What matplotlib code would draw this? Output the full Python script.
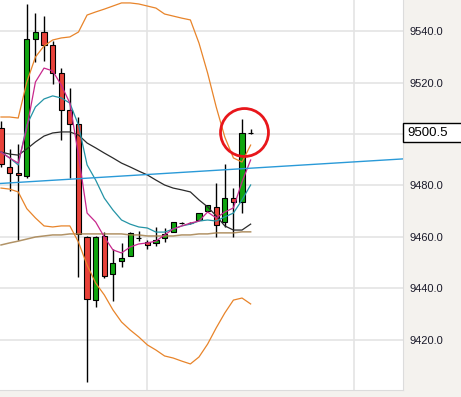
import matplotlib
matplotlib.use("Agg")
import matplotlib.pyplot as plt
import matplotlib.transforms as mtransforms
from matplotlib.patches import Rectangle
import numpy as np

plt.rcParams['font.family'] = ['Liberation Sans', 'DejaVu Sans']

# candles (price values)
opens  = [9502.5, 9487, 9485, 9483.5, 9537, 9539.5, 9534.5, 9523.5, 9509.5, 9504,
          9460, 9435.5, 9460.5, 9445.5, 9450.5, 9452.5, 9459.5, 9458, 9457.5, 9459.5,
          9462, 9465.5, 9465.5, 9466.5, 9470, 9471.5, 9466, 9475, 9473.5, 9500.5]
closes = [9488.5, 9485, 9484, 9537, 9539.5, 9534.5, 9523.5, 9509.5, 9504, 9461,
          9436, 9460, 9445, 9450, 9452, 9461.5, 9459.5, 9457, 9459, 9461,
          9466, 9465.5, 9465.5, 9469.5, 9472.5, 9464.5, 9475, 9473.5, 9500.5, 9500.5]
highs  = [9505, 9494, 9496, 9550.5, 9547, 9546, 9536, 9525.5, 9518, 9506.5,
          9460.5, 9460.5, 9462, 9455.5, 9457.5, 9462, 9462.5, 9459, 9464, 9463.5,
          9466, 9466, 9466, 9469.5, 9472.5, 9481, 9488.5, 9479, 9506, 9502]
lows   = [9487, 9478, 9459, 9483, 9528, 9528.5, 9519.5, 9497.5, 9483, 9444.5,
          9403.5, 9433, 9444, 9435, 9448.5, 9452.5, 9458.5, 9455.5, 9456.5, 9458,
          9462, 9465, 9465, 9466.5, 9470, 9460, 9464, 9460, 9469.5, 9500]

# indicators
bb_upper = [9506.6, 9506.6, 9506.2, 9520.2, 9529.9, 9534.2, 9536.5, 9537.3, 9537.7, 9539.6,
            9546.2, 9547.4, 9548.5, 9549.7, 9550.9, 9550.9, 9550.5, 9549.7, 9548.9, 9546.6,
            9545.8, 9545.0, 9544.3, 9535.3, 9523.7, 9510.5, 9498.8, 9490.7, 9489.1, 9495.7]
bb_lower = [9479.0, 9478.6, 9477.5, 9471.0, 9467.4, 9464.3, 9463.9, 9464.3, 9464.3, 9458.0,
            9449.1, 9442.1, 9437.5, 9431.7, 9427.0, 9423.9, 9421.2, 9418.1, 9416.1, 9413.8,
            9413.0, 9411.8, 9410.7, 9413.4, 9418.4, 9424.7, 9430.5, 9435.5, 9436.3, 9434.0]
ma_fast  = [9493.0, 9490.7, 9488.7, 9502.3, 9520.2, 9525.6, 9524.5, 9519.0, 9512.0, 9491.8,
            9469.3, 9465.8, 9460.0, 9455.0, 9453.8, 9456.1, 9457.3, 9457.7, 9458.4, 9460.8,
            9463.1, 9464.3, 9465.4, 9466.2, 9469.7, 9467.4, 9469.7, 9471.3, 9481.4, 9489.9]
ma_mid   = [9493.0, 9490.7, 9488.0, 9503.5, 9510.5, 9513.6, 9514.8, 9514.0, 9512.0, 9503.5,
            9488.0, 9482.1, 9475.1, 9470.5, 9466.6, 9465.0, 9463.9, 9463.5, 9461.9, 9461.9,
            9463.1, 9464.3, 9465.0, 9466.2, 9466.6, 9466.2, 9467.8, 9469.3, 9474.4, 9480.2]
ma_slow  = [9493.0, 9492.2, 9491.8, 9494.2, 9496.9, 9499.2, 9500.4, 9500.8, 9500.8, 9499.6,
            9496.5, 9494.6, 9492.6, 9490.7, 9488.7, 9487.2, 9485.6, 9484.1, 9482.1, 9480.2,
            9479.0, 9478.3, 9477.5, 9474.4, 9471.7, 9468.2, 9464.3, 9462.7, 9462.7, 9465.0]
ma_long  = [9456.9, 9457.7, 9458.4, 9459.2, 9460.0, 9460.4, 9460.8, 9460.8, 9461.2, 9461.2,
            9461.2, 9461.2, 9461.2, 9461.2, 9461.2, 9460.8, 9460.8, 9460.4, 9460.4, 9460.4,
            9460.4, 9460.8, 9460.8, 9461.2, 9461.2, 9461.6, 9461.6, 9461.6, 9462.0, 9462.0]

trend_x = [-1, 50]
trend_y = [9480.6, 9491.0]

last_price = 9500.5
yticks = [9420, 9440, 9460, 9480, 9500, 9520, 9540]

fig = plt.figure(figsize=(4.61, 3.97), dpi=100, facecolor='#f4f2ee')
ax = fig.add_axes([0, 7/397, 403/461, 390/397])
ax.set_facecolor('white')

x = np.arange(len(opens))
o = np.array(opens); c = np.array(closes)
up = c >= o
cols = np.where(up, '#10a610', '#e8423a')

ax.vlines(x, lows, highs, color='black', lw=1, zorder=2)
ax.bar(x, c - o, bottom=o, width=0.6, color=cols, edgecolor='black', lw=0.8, zorder=3)

ax.plot(x, ma_long, color='#a4804c', lw=1.1, alpha=0.85, zorder=4)
ax.plot(x, bb_upper, color='#e8842a', lw=0.9, zorder=4)
ax.plot(x, bb_lower, color='#e8842a', lw=0.9, zorder=4)
ax.plot(x, ma_slow, color='#2a2a2a', lw=0.9, zorder=4)
ax.plot(x, ma_mid, color='#2494a6', lw=0.9, zorder=4)
ax.plot(x, ma_fast, color='#c8288c', lw=0.9, zorder=4)
ax.plot(trend_x, trend_y, color='#2a9ad8', lw=1, zorder=5)

# red highlight circle around the last candle
ax.plot([28.2], [9500.8], marker='o', ms=34.5, mfc='none', mec='#e8161b', mew=2, zorder=6)

ax.set_xlim(-0.116, 46.70)
ax.set_ylim(9400.58, 9552.04)
ax.set_xticks([17, 41])
ax.set_xticklabels([])
ax.set_yticks(yticks)
# 9500.0 sits under the last-price box
ax.set_yticklabels(['' if v == 9500 else '%.1f' % v for v in yticks])
ax.yaxis.tick_right()
ax.tick_params(length=0, labelsize=8, labelcolor='#1a1a2a', pad=5)
ax.tick_params(axis='x', length=0)
ax.grid(True, color='#e4e4e4', lw=1.2)
ax.set_axisbelow(True)
for s in ['top', 'left']:
    ax.spines[s].set_visible(False)
for s in ['right', 'bottom']:
    ax.spines[s].set_color('#dcdcdc')

# last price box on the price scale
trans = mtransforms.blended_transform_factory(ax.transAxes, ax.transData)
box = Rectangle((1.0, last_price - 3.6), 0.2, 7.2, transform=trans, fc='white', ec='black',
                lw=1, clip_on=False, zorder=9)
ax.add_patch(box)
ax.text(1.01, last_price, '%.1f' % last_price, transform=trans, ha='left', va='center',
        fontsize=9.5, color='black', clip_on=False, zorder=10)

fig.savefig('out.png', dpi=100, facecolor=fig.get_facecolor())
